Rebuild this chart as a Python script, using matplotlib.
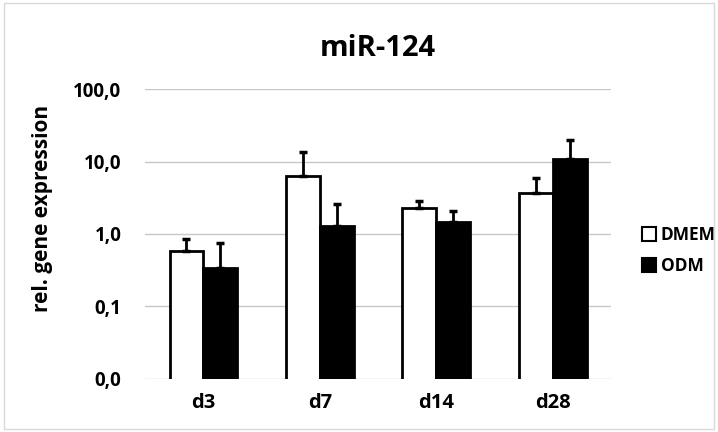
import matplotlib.pyplot as plt
from matplotlib.patches import Rectangle
from matplotlib.ticker import FixedLocator, NullLocator
import numpy as np

# values (log scale)
days = ["d3", "d7", "d14", "d28"]
dmem = [0.58, 6.3, 2.3, 3.7]
dmem_err = [0.26, 7.2, 0.57, 2.15]
odm = [0.34, 1.29, 1.47, 10.8]
odm_err = [0.40, 1.34, 0.59, 9.0]
yticks = [0.01, 0.1, 1, 10, 100]
ylabels = ["0,0", "0,1", "1,0", "10,0", "100,0"]

plt.rcParams['font.family'] = ['Open Sans', 'DejaVu Sans']

fig = plt.figure(figsize=(7.18, 4.32), dpi=100)
ax = fig.add_axes([0.202, 0.1234, 0.649, 0.6699])

x = np.arange(len(days))
w = 0.29

ax.bar(x - w/2, dmem, w, color="white", edgecolor="black", linewidth=2,
       label="DMEM", zorder=3,
       yerr=[np.zeros(len(dmem)), dmem_err],
       error_kw=dict(ecolor="black", elinewidth=2, capsize=3, capthick=2.5, zorder=4))
ax.bar(x + w/2, odm, w, color="black", edgecolor="black", linewidth=2,
       label="ODM", zorder=3,
       yerr=[np.zeros(len(odm)), odm_err],
       error_kw=dict(ecolor="black", elinewidth=2, capsize=3, capthick=2.5, zorder=4))

ax.set_yscale("log")
ax.set_ylim(0.01, 100)
ax.set_xlim(-0.5, 3.5)
ax.yaxis.set_major_locator(FixedLocator(yticks))
ax.yaxis.set_minor_locator(NullLocator())
ax.set_yticklabels(ylabels, fontsize=13.5, fontweight="bold")
ax.set_xticks(x)
ax.set_xticklabels(days, fontsize=14.5, fontweight="bold")
ax.tick_params(axis="y", length=0, pad=17)
ax.tick_params(axis="x", length=0, pad=10)
ax.grid(axis="y", color="#c8c8c8", linewidth=1, zorder=0)
for s in ax.spines.values():
    s.set_visible(False)

ax.set_ylabel("rel. gene expression", fontsize=15, fontweight="bold")
ax.yaxis.set_label_coords(-0.198, 0.59)
ax.set_title("miR-124", fontsize=21, fontweight="bold", pad=24)

leg = fig.legend(loc="center left", bbox_to_anchor=(0.872, 0.42), frameon=False,
                 prop=dict(size=12.5, weight="bold"), handlelength=0.8, handleheight=0.8,
                 handletextpad=0.3, labelspacing=0.75)
for h in leg.legend_handles:
    h.set_linewidth(1.5)

fig.patches.append(Rectangle((0.006, 0.006), 0.988, 0.988, transform=fig.transFigure,
                             fill=False, edgecolor="#d9d9d9", linewidth=1))

fig.savefig("out.png", dpi=100)
